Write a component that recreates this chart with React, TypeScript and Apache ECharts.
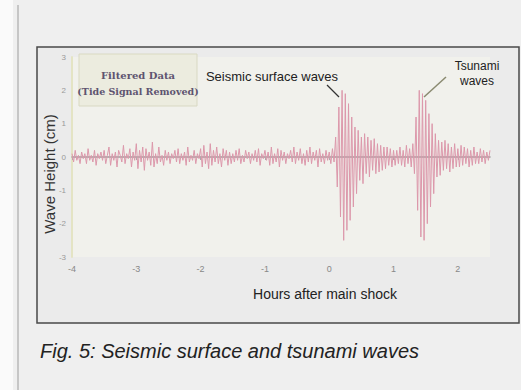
import React, { useEffect, useRef } from "react";
import * as echarts from "echarts";

// Sampling: hours after main shock, from -4 to 2.5 every 0.025 h
const startHour = -4;
const stepHour = 0.025;

// Wave height (cm), filtered data
const waveHeight: number[] = [
  // background noise, -4.0 .. 0.075 h
  0.1, -0.15, 0.2, -0.1, 0.05, -0.2, 0.15, -0.05, 0.1, -0.2, 0.25, -0.1, 0.05, -0.15, 0.2, -0.25, 0.1, -0.05, 0.15, -0.1,
  0.2, -0.2, 0.05, 0.3, -0.25, 0.1, -0.1, 0.15, -0.3, 0.2, 0.05, -0.15, 0.35, -0.2, 0.1, -0.05, 0.25, -0.3, 0.15, -0.1,
  0.4, -0.35, 0.2, -0.15, 0.3, -0.4, 0.25, -0.1, 0.15, -0.25, 0.45, -0.3, 0.1, -0.2, 0.3, -0.15, 0.05, -0.25, 0.2, -0.1,
  0.15, -0.2, 0.1, -0.05, 0.2, -0.15, 0.25, -0.2, 0.1, -0.1, 0.15, -0.25, 0.3, -0.15, 0.05, -0.1, 0.2, -0.2, 0.1, -0.05,
  0.25, -0.3, 0.35, -0.2, 0.15, -0.35, 0.4, -0.25, 0.2, -0.15, 0.3, -0.2, 0.1, -0.3, 0.25, -0.1, 0.2, -0.25, 0.15, -0.2,
  0.1, -0.15, 0.2, -0.1, 0.25, -0.2, 0.05, -0.15, 0.2, -0.05, 0.15, -0.2, 0.1, -0.1, 0.2, -0.15, 0.25, -0.25, 0.1, -0.05,
  0.2, -0.1, 0.15, -0.25, 0.3, -0.2, 0.1, -0.15, 0.25, -0.3, 0.2, -0.1, 0.15, -0.2, 0.1, -0.05, 0.2, -0.15, 0.3, -0.2,
  0.15, -0.1, 0.25, -0.2, 0.1, -0.25, 0.2, -0.15, 0.3, -0.2, 0.15, -0.1, 0.2, -0.3, 0.25, -0.15, 0.1, -0.2, 0.2, -0.1,
  0.15, -0.2, 0.25, -0.15,
  // seismic surface waves, 0.1 .. 0.425 h
  0.6, -0.9, 1.5, -1.8, 2.0, -2.5, 1.9, -2.2, 1.6, -1.9, 1.2, -1.5, 0.9, -1.1,
  // coda, 0.45 .. 1.075 h
  0.8, -0.7, 0.6, -0.8, 0.7, -0.5, 0.6, -0.6, 0.5, -0.4, 0.55, -0.5, 0.4, -0.45, 0.35, -0.4, 0.3, -0.35, 0.3, -0.25,
  0.25, -0.3, 0.2, -0.25, 0.2, -0.2,
  // quiet, 1.1 .. 1.325 h
  0.3, -0.25, 0.2, -0.3, 0.35, -0.2, 0.25, -0.3, 0.4, -0.5,
  // tsunami waves, 1.35 .. 1.625 h
  1.2, -1.6, 2.0, -2.4, 1.9, -2.5, 1.7, -2.0, 1.3, -1.5, 1.0, -1.1,
  // after, 1.65 .. 2.5 h
  0.7, -0.6, 0.5, -0.55, 0.45, -0.4, 0.5, -0.35, 0.4, -0.45, 0.3, -0.35, 0.4, -0.3, 0.25, -0.3, 0.35, -0.25, 0.3, -0.2,
  0.25, -0.3, 0.2, -0.25, 0.3, -0.2, 0.15, -0.2, 0.25, -0.15, 0.2, -0.2, 0.15, -0.1, 0.2,
];

const xTicks = [-4, -3, -2, -1, 0, 1, 2];

export default function App() {
  const ref = useRef<HTMLDivElement>(null);

  useEffect(() => {
    if (!ref.current) return;
    const chart = echarts.init(ref.current, undefined, { renderer: "svg" });
    const data = waveHeight.map((v, i) => [
      Math.round((startHour + i * stepHour) * 1000) / 1000,
      v,
    ]);
    chart.setOption({
      animation: false,
      backgroundColor: "#efefef",
      grid: {
        left: 72,
        right: 31,
        top: 57,
        bottom: 133,
        show: true,
        backgroundColor: "#f1f1ec",
        borderWidth: 0,
      },
      xAxis: {
        type: "value",
        min: -4,
        max: 2.5,
        interval: 1,
        splitLine: { show: false },
        axisLine: { show: true, lineStyle: { color: "#9a9a9a", width: 1.5 } },
        axisTick: {
          show: true,
          customValues: xTicks,
          length: 3,
          lineStyle: { color: "#aaa" },
        },
        axisLabel: {
          customValues: xTicks,
          color: "#888",
          fontSize: 9,
          margin: 7,
          fontFamily: "Liberation Sans",
        },
      },
      yAxis: {
        type: "value",
        min: -3,
        max: 3,
        interval: 1,
        splitLine: { show: false },
        axisLine: { show: true, onZero: false, lineStyle: { color: "#e4e4c4", width: 2 } },
        axisTick: { show: false },
        axisLabel: {
          color: "#999",
          fontSize: 8,
          margin: 6,
          fontFamily: "Liberation Sans",
        },
      },
      series: [
        {
          type: "line",
          data,
          showSymbol: false,
          lineStyle: { color: "#dc98ab", width: 1 },
          z: 3,
        },
      ],
      graphic: [
        { type: "rect", z: -10, shape: { x: 0, y: 0, width: 13, height: 390 }, style: { fill: "#fafafa" } },
        { type: "line", z: -9, shape: { x1: 18, y1: 5, x2: 18, y2: 390 }, style: { stroke: "#b8b8b8", lineWidth: 1.5 } },
        {
          type: "rect",
          z: -8,
          shape: { x: 37, y: 47, width: 482, height: 276 },
          style: { fill: "#ebebeb", stroke: "#4a4a4a", lineWidth: 1.5 },
        },
        {
          type: "rect",
          z: 5,
          shape: { x: 79, y: 54, width: 118, height: 52 },
          style: { fill: "#ececdf", stroke: "#d9d9c2", lineWidth: 1 },
        },
        {
          type: "text",
          z: 6,
          style: {
            x: 138, y: 75, text: "Filtered Data", align: "center", verticalAlign: "middle",
            font: "bold 10px 'DejaVu Serif'", fill: "#5e5470",
          },
        },
        {
          type: "text",
          z: 6,
          style: {
            x: 138, y: 91, text: "(Tide Signal Removed)", align: "center", verticalAlign: "middle",
            font: "bold 9.5px 'DejaVu Serif'", fill: "#5e5470",
          },
        },
        {
          type: "text",
          z: 6,
          style: {
            x: 272, y: 76, text: "Seismic surface waves", align: "center", verticalAlign: "middle",
            font: "13px 'Liberation Sans Narrow', 'Liberation Sans'", fill: "#222",
          },
        },
        { type: "line", z: 6, shape: { x1: 327, y1: 85, x2: 339, y2: 97 }, style: { stroke: "#333", lineWidth: 1.2 } },
        {
          type: "text",
          z: 6,
          style: {
            x: 477, y: 66, text: "Tsunami", align: "center", verticalAlign: "middle",
            font: "12px 'Liberation Sans Narrow', 'Liberation Sans'", fill: "#222",
          },
        },
        {
          type: "text",
          z: 6,
          style: {
            x: 477, y: 81, text: "waves", align: "center", verticalAlign: "middle",
            font: "12px 'Liberation Sans Narrow', 'Liberation Sans'", fill: "#222",
          },
        },
        { type: "line", z: 6, shape: { x1: 446, y1: 77, x2: 424, y2: 97 }, style: { stroke: "#8a8a70", lineWidth: 1.5 } },
        {
          type: "text",
          z: 6,
          rotation: Math.PI / 2,
          x: 49,
          y: 174,
          style: {
            x: 0, y: 0, text: "Wave Height (cm)", align: "center", verticalAlign: "middle",
            font: "15px 'Liberation Sans'", fill: "#333",
          },
        },
        {
          type: "text",
          z: 6,
          style: {
            x: 325, y: 294, text: "Hours after main shock", align: "center", verticalAlign: "middle",
            font: "14px 'Liberation Sans Narrow', 'Liberation Sans'", fill: "#222",
          },
        },
        {
          type: "text",
          z: 6,
          style: {
            x: 40, y: 351, text: "Fig. 5: Seismic surface and tsunami waves", align: "left", verticalAlign: "middle",
            font: "italic 20px 'Liberation Sans'", fill: "#222",
          },
        },
      ],
    });
    return () => chart.dispose();
  }, []);

  return (
    <div
      ref={ref}
      style={{ position: "fixed", left: 0, top: 0, width: 521, height: 390 }}
    />
  );
}
